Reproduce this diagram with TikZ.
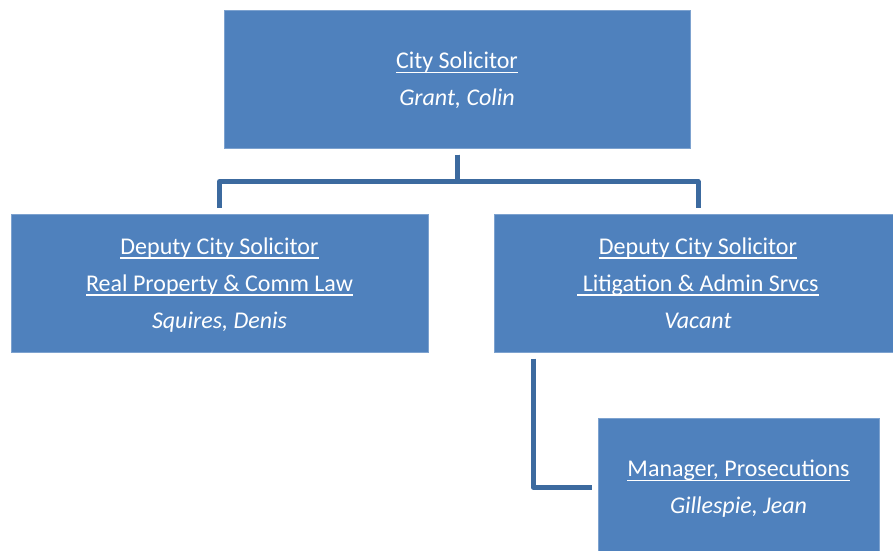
\documentclass[tikz,border=0pt]{standalone}
\usepackage{fontspec}
\setmainfont{Carlito}
\usepackage{tikz}
\newsavebox{\ulbox}
\newcommand{\uln}[1]{\sbox{\ulbox}{#1}\rlap{\rule[-4.4pt]{\wd\ulbox}{1.3pt}}\usebox{\ulbox}}
\definecolor{boxfill}{HTML}{4F81BD}
\definecolor{boxline}{HTML}{7DA2CF}
\definecolor{linkline}{HTML}{3C6A9F}
\tikzset{
    post/.style={
           rectangle,
           fill=boxfill,
           draw=boxline, line width=1pt,
           inner sep=0pt,
           text=white,
           text depth=0pt,
           align=center,
           font=\fontsize{24}{37}\selectfont,
           },
    link/.style={
           draw=linkline, line width=5pt,
           line join=round,
           shorten <=6pt, shorten >=6pt,
           },
}

\begin{document}
\begin{tikzpicture}[x=1pt,y=-1pt]
    \clip (0,0) rectangle (893,550);
    \useasboundingbox (0,0) rectangle (893,550);

    % top of the tree
    \node[post,
    minimum width=466pt, minimum height=138pt,
    anchor=center] (solicitor) at (457,79)
    {\uln{City Solicitor}\\ \textit{Grant, Colin}};

    % the two deputies
    \node[post,
    minimum width=417pt, minimum height=138pt,
    anchor=center] (realprop) at (219.5,283)
    {\uln{Deputy City Solicitor}\\ \uln{Real Property \& Comm Law}\\ \textit{Squires, Denis}};

    \node[post,
    minimum width=408pt, minimum height=138pt,
    anchor=center] (litigation) at (698,283)
    {\uln{Deputy City Solicitor}\\ \uln{\ Litigation \& Admin Srvcs}\\ \textit{Vacant}};

    % below the litigation deputy
    \node[post,
    minimum width=281pt, minimum height=138pt,
    anchor=center] (prosecutions) at (738.5,487)
    {\uln{Manager, Prosecutions}\\ \textit{Gillespie, Jean}};

    % reporting lines
    \path[link] (solicitor.south) -- ++(0pt,-33pt) -| (realprop.north);
    \path[link] (solicitor.south) -- ++(0pt,-33pt) -| (litigation.north);
    \path[link] ([xshift=-165pt]litigation.south) |- (prosecutions.west);
\end{tikzpicture}
\end{document}
